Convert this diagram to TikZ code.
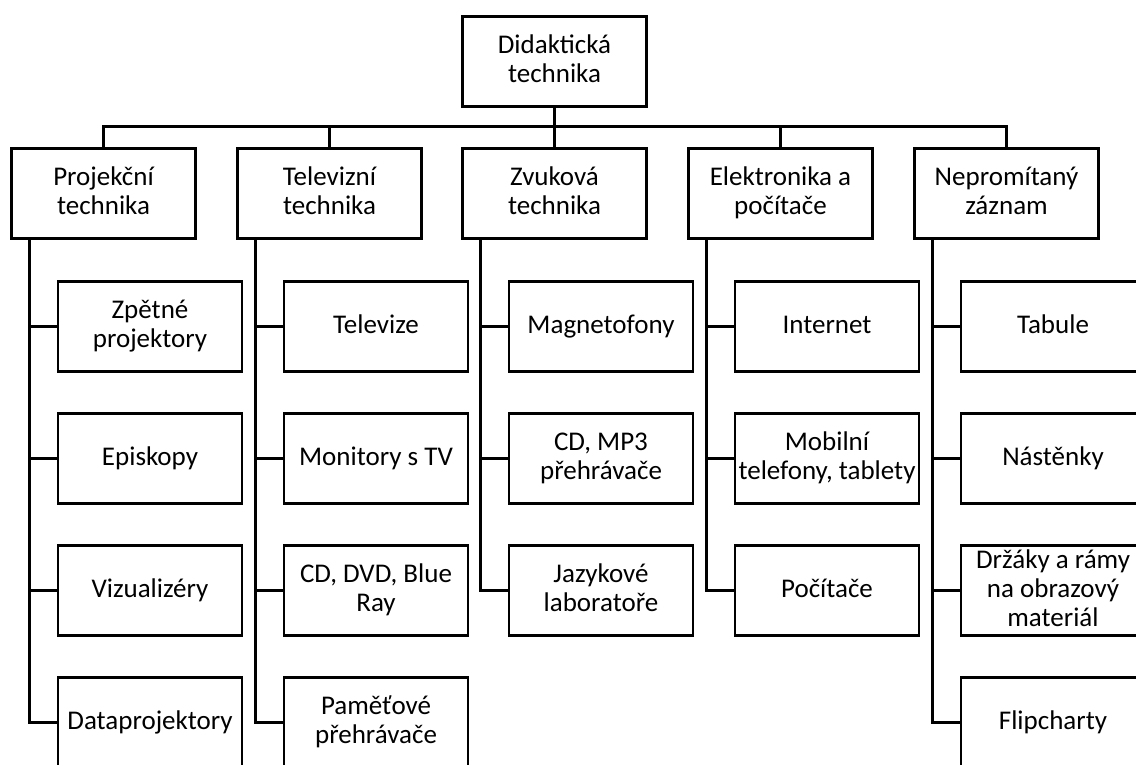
\documentclass[tikz,border=0pt]{standalone}
\usepackage{fontspec}
\setmainfont{Carlito}
\newcommand\st{\rule[-0.28em]{0pt}{1.07em}}
\begin{document}
\begin{tikzpicture}[x=1pt,y=-1pt,
  box/.style={draw=black,line width=2.6pt,minimum width=184pt,minimum height=90pt,inner sep=1pt,align=center,font=\fontsize{27}{29}\selectfont},
  conn/.style={draw=black,line width=2.6pt}]
\clip (0,0) rectangle (1136,765);
\fill[white] (0,0) rectangle (1136,765);
\node[box] (root) at (554.5,61.5) {\st Didaktická\\\st technika};
\node[box] (L1) at (103.5,193.5) {\st Projekční\\\st technika};
\node[box] (L2) at (329.5,193.5) {\st Televizní\\\st technika};
\node[box] (L3) at (554.5,193.5) {\st Zvuková\\\st technika};
\node[box] (L4) at (780.5,193.5) {\st Elektronika a\\\st počítače};
\node[box] (L5) at (1006.5,193.5) {\st Nepromítaný\\\st záznam};
% column 1
\node[box] (c11) at (150,326.5) {\st Zpětné\\\st projektory};
\node[box] (c12) at (150,458.5) {\st Episkopy};
\node[box] (c13) at (150,590.5) {\st Vizualizéry};
\node[box] (c14) at (150,722.5) {\st Dataprojektory};
% column 2
\node[box] (c21) at (376,326.5) {\st Televize};
\node[box] (c22) at (376,458.5) {\st Monitory s TV};
\node[box] (c23) at (376,590.5) {\st CD, DVD, Blue\\\st Ray};
\node[box] (c24) at (376,722.5) {\st Paměťové\\\st přehrávače};
% column 3
\node[box] (c31) at (601,326.5) {\st Magnetofony};
\node[box] (c32) at (601,458.5) {\st CD, MP3\\\st přehrávače};
\node[box] (c33) at (601,590.5) {\st Jazykové\\\st laboratoře};
% column 4
\node[box] (c41) at (827,326.5) {\st Internet};
\node[box] (c42) at (827,458.5) {\st Mobilní\\\st telefony, tablety};
\node[box] (c43) at (827,590.5) {\st Počítače};
% column 5
\node[box] (c51) at (1053,326.5) {\st Tabule};
\node[box] (c52) at (1053,458.5) {\st Nástěnky};
\node[box] (c53) at (1053,590.5) {\st Držáky a rámy\\\st na obrazový\\\st materiál};
\node[box] (c54) at (1053,722.5) {\st Flipcharty};
% bus
\foreach \k in {1,...,5}{
  \draw[conn] (root.south) -- ++(0,19) -| (L\k.north);
}
% spines
\foreach \k/\n in {1/4,2/4,3/3,4/3,5/4}{
  \foreach \j in {1,...,\n}{
    \draw[conn] ([xshift=19pt]L\k.south west) |- (c\k\j.west);
  }
}
\end{tikzpicture}
\end{document}
